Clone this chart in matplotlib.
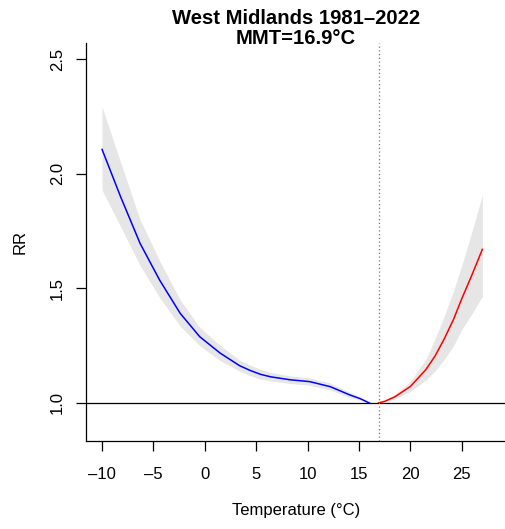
import numpy as np
import matplotlib
matplotlib.use('Agg')
import matplotlib.pyplot as plt

plt.rcParams['font.family'] = ['Liberation Sans', 'DejaVu Sans']

# cold side (below MMT)
cold_temp = [-10, -8.2, -6.3, -4.4, -2.4, -0.5, 1.5, 3.4, 4.4, 5.4, 6.4, 8.3, 10.2, 12.2, 14.1, 15.1, 16.0]
cold_rr = [2.106, 1.90, 1.696, 1.536, 1.391, 1.289, 1.217, 1.162, 1.142, 1.125, 1.114, 1.101, 1.093, 1.071, 1.035, 1.019, 1.0]
cold_low = [1.929, 1.77, 1.60, 1.46, 1.335, 1.25, 1.185, 1.138, 1.119, 1.104, 1.096, 1.085, 1.077, 1.056, 1.024, 1.012, 1.0]
cold_high = [2.292, 2.05, 1.80, 1.62, 1.45, 1.33, 1.25, 1.187, 1.165, 1.147, 1.133, 1.118, 1.109, 1.087, 1.047, 1.026, 1.0]

# hot side (above MMT)
hot_temp = [16.9, 17.5, 18.5, 20, 21.5, 22.4, 23.3, 24.2, 25, 26, 27]
hot_rr = [1.0, 1.007, 1.027, 1.072, 1.145, 1.205, 1.28, 1.365, 1.455, 1.56, 1.67]
hot_low = [1.0, 1.004, 1.018, 1.05, 1.10, 1.14, 1.19, 1.25, 1.32, 1.39, 1.465]
hot_high = [1.0, 1.011, 1.037, 1.095, 1.19, 1.28, 1.38, 1.49, 1.60, 1.75, 1.907]

mmt = 16.9
xticks = [-10, -5, 0, 5, 10, 15, 20, 25]
yticks = [1.0, 1.5, 2.0, 2.5]

W, H = 506, 529
fig = plt.figure(figsize=(W / 100, H / 100), dpi=100)
ax = fig.add_axes([86/W, 1 - 441/H, 1 - 86/W, (441 - 43)/H])

ax.fill_between(cold_temp, cold_low, cold_high, color='#e6e6e6', lw=0)
ax.fill_between(hot_temp, hot_low, hot_high, color='#e6e6e6', lw=0)
ax.plot(cold_temp, cold_rr, color='blue', lw=1.1)
ax.plot(hot_temp, hot_rr, color='red', lw=1.1)
ax.axhline(1.0, color='black', lw=0.9)
ax.axvline(mmt, color='#777777', lw=0.9, ls=(0, (1, 2)))

ax.set_xlim(-11.56, 29.3)
ax.set_ylim(0.834, 2.57)
ax.set_xticks(xticks)
ax.set_yticks(yticks)
ax.set_xticklabels([str(t).replace('-', '\u2013') for t in xticks])
ax.set_yticklabels(['%.1f' % v for v in yticks], rotation=90, va='center')

for s in ['top', 'right']:
    ax.spines[s].set_visible(False)
for s in ['left', 'bottom']:
    ax.spines[s].set_linewidth(0.9)
ax.tick_params(axis='both', length=7, width=0.9, labelsize=12, direction='out')
ax.tick_params(axis='x', pad=12)
ax.tick_params(axis='y', pad=8)

ax.set_xlabel('Temperature (°C)', fontsize=12, labelpad=15)
ax.set_ylabel('RR', fontsize=12, labelpad=16)

# two-line bold title, baselines placed as in the reference
fig.text(296/W, 1 - 23.5/H, 'West Midlands 1981\u20132022', ha='center', va='baseline',
         fontsize=14.6, fontweight='bold')
fig.text(296/W, 1 - 43.5/H, 'MMT=16.9°C', ha='center', va='baseline',
         fontsize=14.6, fontweight='bold')

fig.savefig('out.png', dpi=100)
